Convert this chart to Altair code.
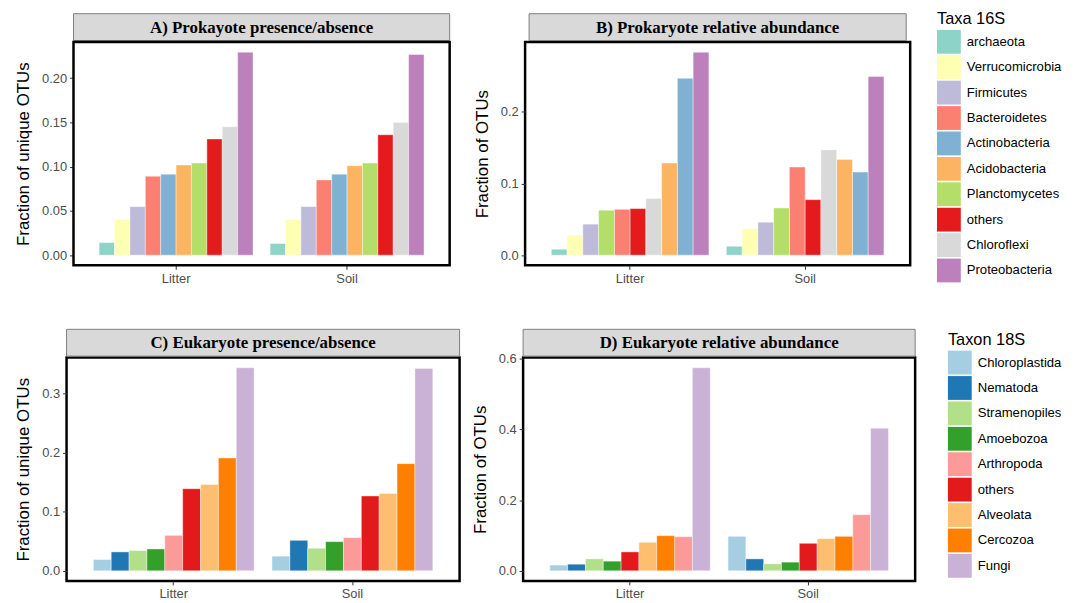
import altair as alt
import pandas as pd

sites = ["Litter", "Soil"]

taxa16 = ["archaeota", "Verrucomicrobia", "Firmicutes", "Bacteroidetes", "Actinobacteria",
          "Acidobacteria", "Planctomycetes", "others", "Chloroflexi", "Proteobacteria"]
colors16 = ["#8DD3C7", "#FFFFB3", "#BEBADA", "#FB8072", "#80B1D3",
            "#FDB462", "#B3DE69", "#E41A1C", "#D9D9D9", "#BC80BD"]
A_litter = [0.0142, 0.0403, 0.0548, 0.0892, 0.0914, 0.1018, 0.1040, 0.1312, 0.1450, 0.2293]
A_soil = [0.0131, 0.0403, 0.0548, 0.0850, 0.0914, 0.1010, 0.1040, 0.1360, 0.1499, 0.2267]
B_litter = [0.0083, 0.0280, 0.0433, 0.0640, 0.2470, 0.1286, 0.0627, 0.0650, 0.0790, 0.2835]
B_soil = [0.0124, 0.0368, 0.0460, 0.1230, 0.1160, 0.1337, 0.0659, 0.0775, 0.1470, 0.2494]
B_order = ["archaeota", "Verrucomicrobia", "Firmicutes", "Planctomycetes", "Bacteroidetes",
           "others", "Chloroflexi", "Acidobacteria", "Actinobacteria", "Proteobacteria"]

taxa18 = ["Chloroplastida", "Nematoda", "Stramenopiles", "Amoebozoa", "Arthropoda",
          "others", "Alveolata", "Cercozoa", "Fungi"]
colors18 = ["#A6CEE3", "#1F78B4", "#B2DF8A", "#33A02C", "#FB9A99",
            "#E31A1C", "#FDBF6F", "#FF7F00", "#CAB2D6"]
C_litter = [0.0190, 0.0319, 0.0342, 0.0369, 0.0599, 0.1388, 0.1460, 0.1908, 0.3434]
C_soil = [0.0247, 0.0515, 0.0381, 0.0493, 0.0560, 0.1265, 0.1309, 0.1812, 0.3423]
D_litter = [0.0160, 0.0188, 0.0337, 0.0272, 0.0966, 0.0534, 0.0806, 0.0994, 0.5750]
D_soil = [0.0975, 0.0337, 0.0197, 0.0244, 0.1590, 0.0778, 0.0910, 0.0975, 0.4037]
D_order = ["Chloroplastida", "Nematoda", "Stramenopiles", "Amoebozoa", "others",
           "Alveolata", "Cercozoa", "Arthropoda", "Fungi"]

FONT = "Liberation Sans"


def make_df(taxa, litter, soil):
    rows = []
    for t, v in zip(taxa, litter):
        rows.append({"site": "Litter", "taxon": t, "value": v})
    for t, v in zip(taxa, soil):
        rows.append({"site": "Soil", "taxon": t, "value": v})
    return pd.DataFrame(rows)


def panel(df, order, ymax, ticks, fmt, ytitle, title, w, h, cdomain, crange,
          ltitle, lx, ly, shift=0, hin=0):
    lo = -0.05 * ymax
    hi = ymax * 1.05
    xscale = alt.Scale(paddingInner=0.1, paddingOuter=0.15)
    if shift:
        xscale = alt.Scale(paddingInner=0.1, paddingOuter=0.15,
                           range=[shift, w + shift])
    yaxis = dict(title=ytitle, values=ticks, format=fmt,
                 labelFontSize=13, labelColor="#4d4d4d",
                 labelFont=FONT, titleFont=FONT,
                 titleFontSize=17, titleFontWeight="normal",
                 titleColor="black", tickColor="#333333",
                 tickSize=4, domain=False, grid=False,
                 labelPadding=3, titlePadding=9)
    if shift:
        yaxis["offset"] = -shift
    bars = alt.Chart(df).mark_bar(stroke="white", strokeWidth=0.4).encode(
        x=alt.X("site:N", sort=sites, scale=xscale,
                axis=alt.Axis(title=None, labelAngle=0, labelFontSize=13,
                              labelColor="#4d4d4d", labelFont=FONT,
                              tickColor="#333333", tickSize=4, domain=False,
                              labelPadding=3)),
        xOffset=alt.XOffset("taxon:N", sort=order,
                            scale=alt.Scale(paddingInner=0, paddingOuter=0)),
        y=alt.Y("value:Q",
                scale=alt.Scale(domain=[lo, hi], nice=False, zero=False),
                axis=alt.Axis(**yaxis)),
        y2=alt.datum(0),
        color=alt.Color("taxon:N",
                        scale=alt.Scale(domain=cdomain, range=crange),
                        legend=alt.Legend(title=ltitle, orient="none",
                                          legendX=lx, legendY=ly,
                                          symbolType="square",
                                          symbolSize=576,
                                          symbolStrokeWidth=0,
                                          symbolOpacity=1,
                                          labelFontSize=13.2,
                                          labelFont=FONT,
                                          labelColor="black",
                                          titleFont=FONT,
                                          titleFontSize=16.5,
                                          titleFontWeight="normal",
                                          titleColor="black",
                                          rowPadding=1.6,
                                          labelOffset=6,
                                          titlePadding=2,
                                          padding=0)),
    )
    tdf = pd.DataFrame({"t": [title]})
    hdr = alt.Chart(tdf).mark_rect(fill="#d9d9d9", stroke="#7f7f7f",
                                   strokeWidth=1).encode(
        x=alt.value(shift + hin), x2=alt.value(shift + w - hin),
        y=alt.value(-28.5), y2=alt.value(-1.5))
    txt = alt.Chart(tdf).mark_text(font="Liberation Serif", fontWeight="bold",
                                   fontSize=17, color="black",
                                   baseline="middle").encode(
        x=alt.value(shift + w / 2), y=alt.value(-14.5), text="t:N")
    layers = [bars, hdr, txt]
    if shift:
        border = alt.Chart(tdf).mark_rect(fill="transparent", stroke="black",
                                          strokeWidth=2.5).encode(
            x=alt.value(shift), x2=alt.value(shift + w),
            y=alt.value(0), y2=alt.value(h))
        layers.append(border)
        return alt.layer(*layers).properties(
            width=w + shift, height=h,
            view=alt.ViewBackground(stroke="transparent"))
    return alt.layer(*layers).properties(width=w, height=h)


pA = panel(make_df(taxa16, A_litter, A_soil), taxa16, 0.2293,
           [0, 0.05, 0.10, 0.15, 0.20], ".2f", "Fraction of unique OTUs",
           "A) Prokayote presence/absence", 379, 225, taxa16, colors16,
           "Taxa 16S", 877, -30.7, shift=7)
pB = panel(make_df(taxa16, B_litter, B_soil), B_order, 0.2835,
           [0, 0.1, 0.2], ".1f", "Fraction of  OTUs",
           "B) Prokaryote relative abundance", 388, 225, taxa16, colors16,
           "Taxa 16S", 877, -30.7, hin=4)
pC = panel(make_df(taxa18, C_litter, C_soil), taxa18, 0.3434,
           [0, 0.1, 0.2, 0.3], ".1f", "Fraction of unique OTUs",
           "C) Eukaryote presence/absence", 396, 225, taxa18, colors18,
           "Taxon 18S", 888, -25.5)
pD = panel(make_df(taxa18, D_litter, D_soil), D_order, 0.5750,
           [0, 0.2, 0.4, 0.6], ".1f", "Fraction of OTUs",
           "D) Eukaryote relative abundance", 395, 225, taxa18, colors18,
           "Taxon 18S", 888, -25.5)

row1 = alt.hconcat(pA, pB, spacing=19).resolve_scale(xOffset="independent")
row2 = alt.hconcat(pC, pD, spacing=8).resolve_scale(xOffset="independent")

chart = alt.concat(row1, row2, columns=1, spacing=40).resolve_scale(
    color="independent", xOffset="independent"
).configure_view(stroke="black", strokeWidth=2.5).properties(
    background="white",
    padding={"left": 5, "top": 1, "right": 5, "bottom": 0})

chart.save("out.html", embed_options={"renderer": "svg", "actions": False})
